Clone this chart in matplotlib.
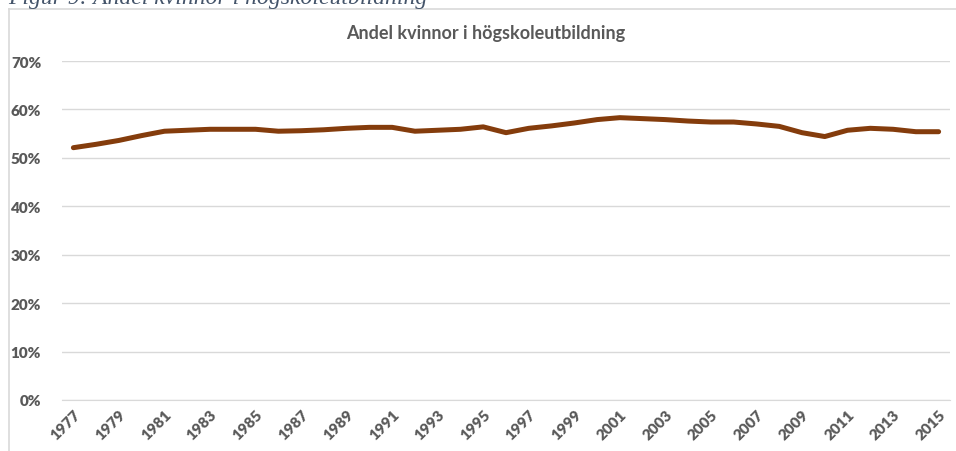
import numpy as np
import matplotlib
matplotlib.use('Agg')
import matplotlib.pyplot as plt
from matplotlib.lines import Line2D
from matplotlib.ticker import FuncFormatter

# Data (share of women in %)
years = list(range(1977, 2016))
share = [52.1, 52.8, 53.6, 54.6, 55.5, 55.7, 55.9, 55.9, 55.9, 55.5,
         55.6, 55.8, 56.1, 56.3, 56.3, 55.5, 55.7, 55.9, 56.4, 55.2,
         56.1, 56.6, 57.2, 57.9, 58.3, 58.1, 57.9, 57.6, 57.4, 57.4,
         57.0, 56.5, 55.2, 54.4, 55.7, 56.1, 55.9, 55.4, 55.4]
yticks = [0, 10, 20, 30, 40, 50, 60, 70]

caption = 'Figur 9: Andel kvinnor i högskoleutbildning'
title = 'Andel kvinnor i högskoleutbildning'

# Style
W, H = 956, 452
grey_txt = '#595959'
grid_col = '#D9D9D9'
line_col = '#843C0C'
plt.rcParams['font.family'] = ['Lato', 'DejaVu Sans']

fig = plt.figure(figsize=(W / 100, H / 100), dpi=100)

# axes in pixel units
x0, x1 = 62, 950
y_top, y_bot = 62, 401
ax = fig.add_axes([x0 / W, 1 - y_bot / H, (x1 - x0) / W, (y_bot - y_top) / H])

x = np.arange(len(years))
ax.plot(x, share, color=line_col, lw=3.6, solid_capstyle='round', solid_joinstyle='round', zorder=3)

ax.set_xlim(-0.5, len(years) - 0.5)
ax.set_ylim(0, 70)
ax.set_yticks(yticks)
ax.yaxis.set_major_formatter(FuncFormatter(lambda v, p: f'{v:.0f}%'))
ax.grid(axis='y', color=grid_col, lw=1.0)
ax.set_axisbelow(True)
for s in ax.spines.values():
    s.set_visible(False)
ax.spines['bottom'].set_visible(True)
ax.spines['bottom'].set_color(grid_col)
ax.tick_params(length=0)
ax.tick_params(axis='y', pad=15, labelcolor=grey_txt, labelsize=11)

xt = x[::2]
ax.set_xticks(xt)
ax.set_xticklabels([str(years[i]) for i in xt], rotation=45, ha='right',
                   rotation_mode='anchor', fontsize=11, color=grey_txt, fontweight='heavy')
for lab in ax.get_yticklabels():
    lab.set_fontweight('heavy')
ax.tick_params(axis='x', pad=5)

# title
fig.text(486 / W, 1 - 33 / H, title, ha='center', va='center', fontsize=13,
         fontweight='bold', color=grey_txt)

# caption above the chart (partly cut at the top, as in the source)
fig.text(8 / W, 1 - 4 / H, caption, ha='left', va='baseline', fontsize=17,
         style='italic', color='#44546A', family=['Liberation Serif', 'DejaVu Serif'])

# chart frame
fig.add_artist(Line2D([8.5 / W, 1], [1 - 9.5 / H, 1 - 9.5 / H], color=grid_col, lw=1.2))
fig.add_artist(Line2D([8.5 / W, 8.5 / W], [0, 1 - 9.5 / H], color=grid_col, lw=1.2))

fig.savefig('out.png', dpi=100)
